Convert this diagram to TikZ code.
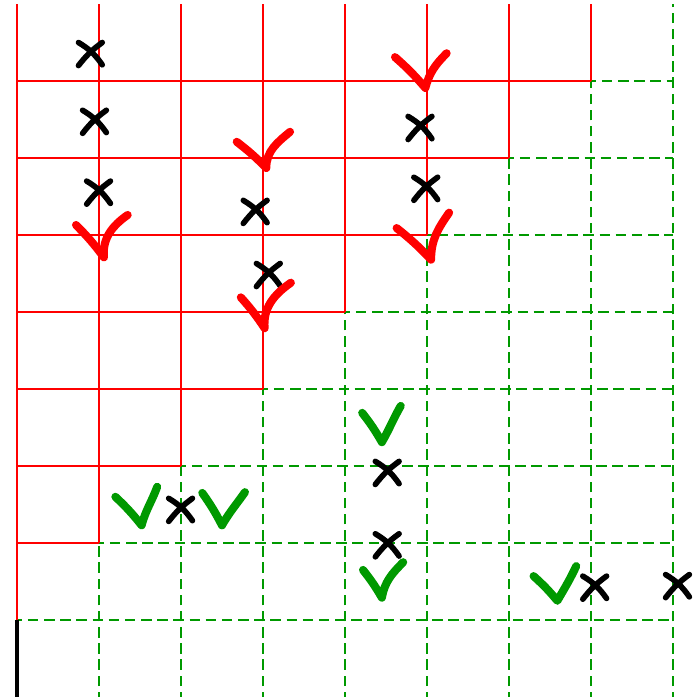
\documentclass[tikz,border=0pt]{standalone}
\usepackage{xcolor}
\usepackage{tikz}
\definecolor{markgreen}{HTML}{009900}
\definecolor{markred}{HTML}{FF0000}
\newcommand{\crossmark}[2]{\draw[black, line width=1.6pt, line cap=round] (#1-0.14,#2+0.15) to[bend left=12] (#1+0.15,#2-0.14) (#1+0.15,#2+0.15) to[bend right=8] (#1-0.14,#2-0.15);}
\newcommand{\tickmark}[6]{\draw[#1, line width=2.3pt, line cap=round, line join=round] (#2) to[bend left=4] (#3) to[out=#5, in=#6] (#4);}

\begin{document}
\begin{tikzpicture}[x=0.82cm, y=0.77cm]
\useasboundingbox (-0.207,-0.013) rectangle (8.293,9.052);
% dashed green part of the grid
\foreach \i in {1,...,8} {\draw[markgreen, line width=0.8pt, dash pattern=on 3pt off 1.6pt, dash phase=1.5pt] (\i,0) -- (\i,\i+1);}
\foreach \j in {1,...,8} {\draw[markgreen, line width=0.8pt, dash pattern=on 3pt off 1.6pt, dash phase=1.5pt] (\j-1,\j) -- (8,\j);}
% red staircase
\foreach \i in {0,...,7} {\draw[markred, line width=0.75pt] (\i,\i+1) -- (\i,9);}
\foreach \j in {2,...,8} {\draw[markred, line width=0.75pt] (0,\j) -- (\j-1,\j);}
\draw[black, line width=1pt] (0,0) -- (0,1);
% crosses
\crossmark{0.89}{8.35}
\crossmark{0.94}{7.47}
\crossmark{0.99}{6.55}
\crossmark{2.90}{6.30}
\crossmark{3.06}{5.48}
\crossmark{4.91}{7.39}
\crossmark{4.98}{6.60}
\crossmark{1.99}{2.43}
\crossmark{4.51}{2.91}
\crossmark{4.51}{1.97}
\crossmark{7.04}{1.42}
\crossmark{8.05}{1.44}
% red ticks
\tickmark{markred}{0.72,6.13}{1.06,5.71}{1.35,6.26}{95}{215}
\tickmark{markred}{2.68,7.21}{3.04,6.87}{3.33,7.34}{90}{220}
\tickmark{markred}{2.73,5.19}{3.02,4.79}{3.34,5.38}{95}{215}
\tickmark{markred}{4.61,8.31}{4.98,7.91}{5.24,8.36}{75}{225}
\tickmark{markred}{4.63,6.09}{5.05,5.68}{5.27,6.29}{90}{235}
% green ticks
\tickmark{markgreen}{1.20,2.60}{1.52,2.23}{1.71,2.73}{75}{250}
\tickmark{markgreen}{2.26,2.65}{2.50,2.23}{2.78,2.66}{60}{235}
\tickmark{markgreen}{4.21,3.69}{4.45,3.31}{4.68,3.78}{60}{240}
\tickmark{markgreen}{4.22,1.65}{4.45,1.29}{4.71,1.75}{80}{225}
\tickmark{markgreen}{6.30,1.57}{6.59,1.25}{6.82,1.70}{60}{245}
\end{tikzpicture}
\end{document}
